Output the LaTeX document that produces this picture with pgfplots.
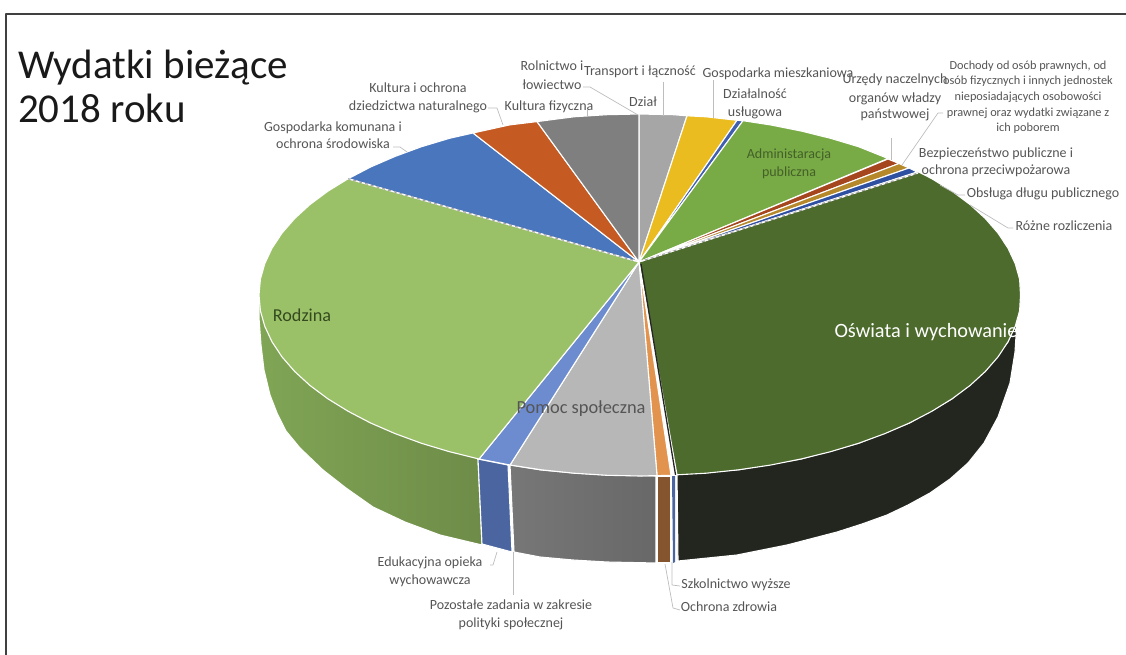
\documentclass[border=0pt]{standalone}
\usepackage{fontspec}
\setmainfont{Carlito}
\usepackage{pgfplots}
\pgfplotsset{compat=1.18}

\definecolor{rodzina}{HTML}{9BC168}
\definecolor{rodzinaL}{HTML}{80A555}
\definecolor{rodzinaR}{HTML}{6E8C48}
\definecolor{oswiata}{HTML}{4C6B2C}
\definecolor{oswiataS}{HTML}{22261F}
\definecolor{pomoc}{HTML}{B7B7B7}
\definecolor{pomocL}{HTML}{777777}
\definecolor{pomocR}{HTML}{686868}
\definecolor{edu}{HTML}{6C8CCF}
\definecolor{eduS}{HTML}{4A659F}
\definecolor{zdrowie}{HTML}{E2944F}
\definecolor{zdrowieS}{HTML}{855530}
\definecolor{komun}{HTML}{4A76BE}
\definecolor{kult}{HTML}{C55A23}
\definecolor{fiz}{HTML}{7F7F7F}
\definecolor{dzial}{HTML}{A6A6A6}
\definecolor{miesz}{HTML}{EABC20}
\definecolor{usl}{HTML}{3F60B0}
\definecolor{admin}{HTML}{78AA46}
\definecolor{urz}{HTML}{A5461E}
\definecolor{doch}{HTML}{B5882B}
\definecolor{bezp}{HTML}{2F50A0}
\definecolor{lead}{HTML}{BDBDBD}
\definecolor{lab}{HTML}{555555}

\tikzset{
  slice/.style={draw=white, line width=1.1pt},
  leader/.style={draw=lead, line width=0.7pt},
  txt/.style={inner sep=0pt, anchor=mid, yshift=-3pt, text=lab, font=\fontsize{14}{16}\selectfont},
  txts/.style={inner sep=0pt, anchor=mid, yshift=-3pt, text=lab, font=\fontsize{12.3}{14}\selectfont},
}

\begin{document}
\begin{tikzpicture}
\begin{axis}[
  scale only axis,
  width=1126pt, height=655pt,
  xmin=0, xmax=1126, ymin=0, ymax=655,
  y dir=reverse,
  ticks=none,
  axis line style={draw=none},
  no markers,
  every axis plot/.append style={line join=round},
]

% frame
\addplot[draw=black!75, line width=2pt] coordinates {(6,655) (6,14) (1126,14)};

% side walls
\addplot[slice, left color=rodzinaL, right color=rodzinaR] coordinates {
  (259,300) (259,318) (261,345) (264,370) (270,395) (277,413) (286,431) (300,448) (323,470)
  (346,488) (373,507) (405,522) (440,535) (482,545) (478,459) (450,400)} -- cycle;
\addplot[slice, fill=eduS] coordinates {(478,459) (508,465) (512,552) (482,544)} -- cycle;
\addplot[slice, left color=pomocL, right color=pomocR] coordinates {
  (510,465) (541,470) (574,473) (607,475) (656,476) (656,563) (607,562) (573,560) (540,557) (514,552)} -- cycle;
\addplot[slice, fill=zdrowieS] coordinates {(657,476) (671,476) (671,563) (657,563)} -- cycle;
\addplot[draw=none, fill=eduS] coordinates {(672,476) (675,476) (675,562) (673,563)} -- cycle;
\addplot[slice, fill=oswiataS] coordinates {
  (677,474) (738.6,469.8) (801,459) (858.5,443.3) (909.4,423) (952,398.8) (985,371.5) (1008,341.8) (1017,320)
  (1015,352) (1010,383) (998,417) (984,443) (968,463) (950,479) (930,493) (908,505) (887,515) (862,524)
  (837,532) (787,545) (737,555) (678,561)} -- cycle;

% top of the pie, clockwise from the top
\addplot[slice, fill=dzial] coordinates {(639,262) (639,114) (673.2,114.7) (687,115.8)} -- cycle;
\addplot[slice, fill=miesz] coordinates {(639,262) (687,115.8) (706.1,116.8) (737,120.3)} -- cycle;
\addplot[slice, fill=usl] coordinates {(639,262) (737,120.3) (743,120.7)} -- cycle;
\addplot[slice, fill=admin] coordinates {(639,262) (743,120.7) (770.3,124.9) (801,131) (830.5,138.3) (858.5,146.7) (888,158.5)} -- cycle;
\addplot[slice, fill=urz] coordinates {(639,262) (888,159) (899,163.5)} -- cycle;
\addplot[slice, fill=doch] coordinates {(639,262) (899,163.5) (909,168)} -- cycle;
\addplot[slice, fill=bezp] coordinates {(639,262) (909,168) (917,172)} -- cycle;
\addplot[slice, fill=oswiata] coordinates {
  (639,262) (918.7,172) (931.8,178.7) (952.1,191.2) (970,204.5) (985.3,218.5) (998,233.1) (1008,248.2)
  (1015.2,263.6) (1019.6,279.2) (1020.5,295) (1019.6,310.8) (1015.2,326.4) (1008,341.8) (998,356.9)
  (985.3,371.5) (970,385.5) (952.1,398.8) (931.8,411.3) (909.4,423) (884.9,433.6) (858.5,443.3)
  (830.5,451.7) (801,459) (770.3,465.1) (738.6,469.8) (706.1,473.2) (677,474.8)} -- cycle;
\addplot[draw=black!85, line width=1.3pt] coordinates {(641,264) (675.5,474.8)};
\addplot[slice, fill=zdrowie] coordinates {(639,262) (671,475.4) (657,475.6)} -- cycle;
\addplot[slice, fill=pomoc] coordinates {(639,262) (657,475.6) (640,476) (606.8,475.3) (573.9,473.2) (541.4,469.8) (510,465)} -- cycle;
\addplot[slice, fill=edu] coordinates {(639,262) (510,465) (479,459)} -- cycle;
\addplot[slice, fill=rodzina] coordinates {
  (639,262) (479,459) (449.5,451.7) (421.5,443.3) (395.1,433.6) (370.6,423) (348.2,411.3) (327.9,398.8)
  (310,385.5) (294.7,371.5) (282,356.9) (272,341.8) (264.8,326.4) (260.4,310.8) (259,295) (260.4,279.2)
  (264.8,263.6) (272,248.2) (282,233.1) (294.7,218.5) (310,204.5) (327.9,191.2) (348.2,178.7)} -- cycle;
\addplot[slice, fill=komun] coordinates {(639,262) (348.2,178.7) (370.6,167) (395.1,156.4) (421.5,146.7) (449.5,138.3) (473,133)} -- cycle;
\addplot[slice, fill=kult] coordinates {(639,262) (473,133) (509.7,124.9) (537,121.6)} -- cycle;
\addplot[slice, fill=fiz] coordinates {(639,262) (537,121.6) (573.9,116.8) (606.8,114.7) (639,114)} -- cycle;

% dashed hairlines of the two very thin slices
\addplot[draw=black!35, line width=1.2pt] coordinates {(636,261) (348.2,178.7)};
\addplot[draw=white, line width=1.2pt, dashed] coordinates {(636,261) (348.2,178.7)};
\addplot[draw=black!35, line width=1.2pt] coordinates {(642,261) (918,173)};
\addplot[draw=white, line width=1.2pt, dashed] coordinates {(642,261) (918,173)};

% leader lines
\addplot[leader] coordinates {(583,87) (590,87) (638,115)};
\addplot[leader] coordinates {(663,82) (663,116)};
\addplot[leader] coordinates {(713,80) (713,118)};
\addplot[leader] coordinates {(488,108) (497,108) (503,125)};
\addplot[leader] coordinates {(587,110) (587,117)};
\addplot[leader] coordinates {(393,147) (400,147) (407,152)};
\addplot[leader] coordinates {(891,138) (891,160)};
\addplot[leader] coordinates {(943,113) (938,113) (902,165)};
\addplot[leader] coordinates {(965,195) (958,195) (940,185)};
\addplot[leader] coordinates {(1013,228) (1008,228) (970,205)};
\addplot[leader] coordinates {(490,565) (493,565) (497,552)};
\addplot[leader] coordinates {(513,552) (513,595)};
\addplot[leader] coordinates {(672,562) (672,585) (680,586)};
\addplot[leader] coordinates {(665,564) (673,608) (680,610)};

% title
\node[inner sep=0pt, anchor=west, text=black!90, font=\fontsize{41}{41}\selectfont] at (axis cs:18,68) {Wydatki bieżące};
\node[inner sep=0pt, anchor=west, text=black!90, font=\fontsize{41}{41}\selectfont] at (axis cs:18,108) {2018 roku};

% labels
\node[txt] at (axis cs:552,65) {Rolnictwo i};
\node[txt] at (axis cs:552,84) {łowiectwo};
\node[txt] at (axis cs:640,70) {Transport i łączność};
\node[txt] at (axis cs:643,101) {Dział};
\node[txt] at (axis cs:778,72) {Gospodarka mieszkaniowa};
\node[txt] at (axis cs:755,93) {Działalność};
\node[txt] at (axis cs:755,111) {usługowa};
\node[txt] at (axis cs:895,78) {Urzędy naczelnych};
\node[txt] at (axis cs:895,97) {organów władzy};
\node[txt] at (axis cs:895,113) {państwowej};
\node[txts] at (axis cs:1028,64) {Dochody od osób prawnych, od};
\node[txts] at (axis cs:1028,79) {osób fizycznych i innych jednostek};
\node[txts] at (axis cs:1028,95) {nieposiadających osobowości};
\node[txts] at (axis cs:1028,111) {prawnej oraz wydatki związane z};
\node[txts] at (axis cs:1028,126) {ich poborem};
\node[txt, text=oswiata!90!black] at (axis cs:789,153) {Administaracja};
\node[txt, text=oswiata!90!black] at (axis cs:789,171) {publiczna};
\node[txt] at (axis cs:996,152) {Bezpieczeństwo publiczne i};
\node[txt] at (axis cs:996,169) {ochrona przeciwpożarowa};
\node[txt] at (axis cs:1043,192) {Obsługa długu publicznego};
\node[txt] at (axis cs:1064,225) {Różne rozliczenia};
\node[txt] at (axis cs:418,87) {Kultura i ochrona};
\node[txt] at (axis cs:418,105) {dziedzictwa naturalnego};
\node[txt] at (axis cs:549,105) {Kultura fizyczna};
\node[txt] at (axis cs:333,126) {Gospodarka komunana i};
\node[txt] at (axis cs:333,143) {ochrona środowiska};
\node[txt] at (axis cs:430,561) {Edukacyjna opieka};
\node[txt] at (axis cs:430,579) {wychowawcza};
\node[txt] at (axis cs:511,604) {Pozostałe zadania w zakresie};
\node[txt] at (axis cs:511,622) {polityki społecznej};
\node[txt] at (axis cs:736,583) {Szkolnictwo wyższe};
\node[txt] at (axis cs:729,606) {Ochrona zdrowia};
\node[inner sep=0pt, anchor=mid, yshift=-4pt, text=oswiata!70!black, font=\fontsize{18.2}{18}\selectfont] at (axis cs:302,315) {Rodzina};
\node[inner sep=0pt, anchor=mid, yshift=-4pt, text=lab, font=\fontsize{18.4}{19}\selectfont] at (axis cs:581,407) {Pomoc społeczna};
\node[inner sep=0pt, anchor=mid, yshift=-4pt, text=white, font=\fontsize{20.3}{20}\selectfont] at (axis cs:926,331) {Oświata i wychowanie};

\end{axis}
\end{tikzpicture}
\end{document}
